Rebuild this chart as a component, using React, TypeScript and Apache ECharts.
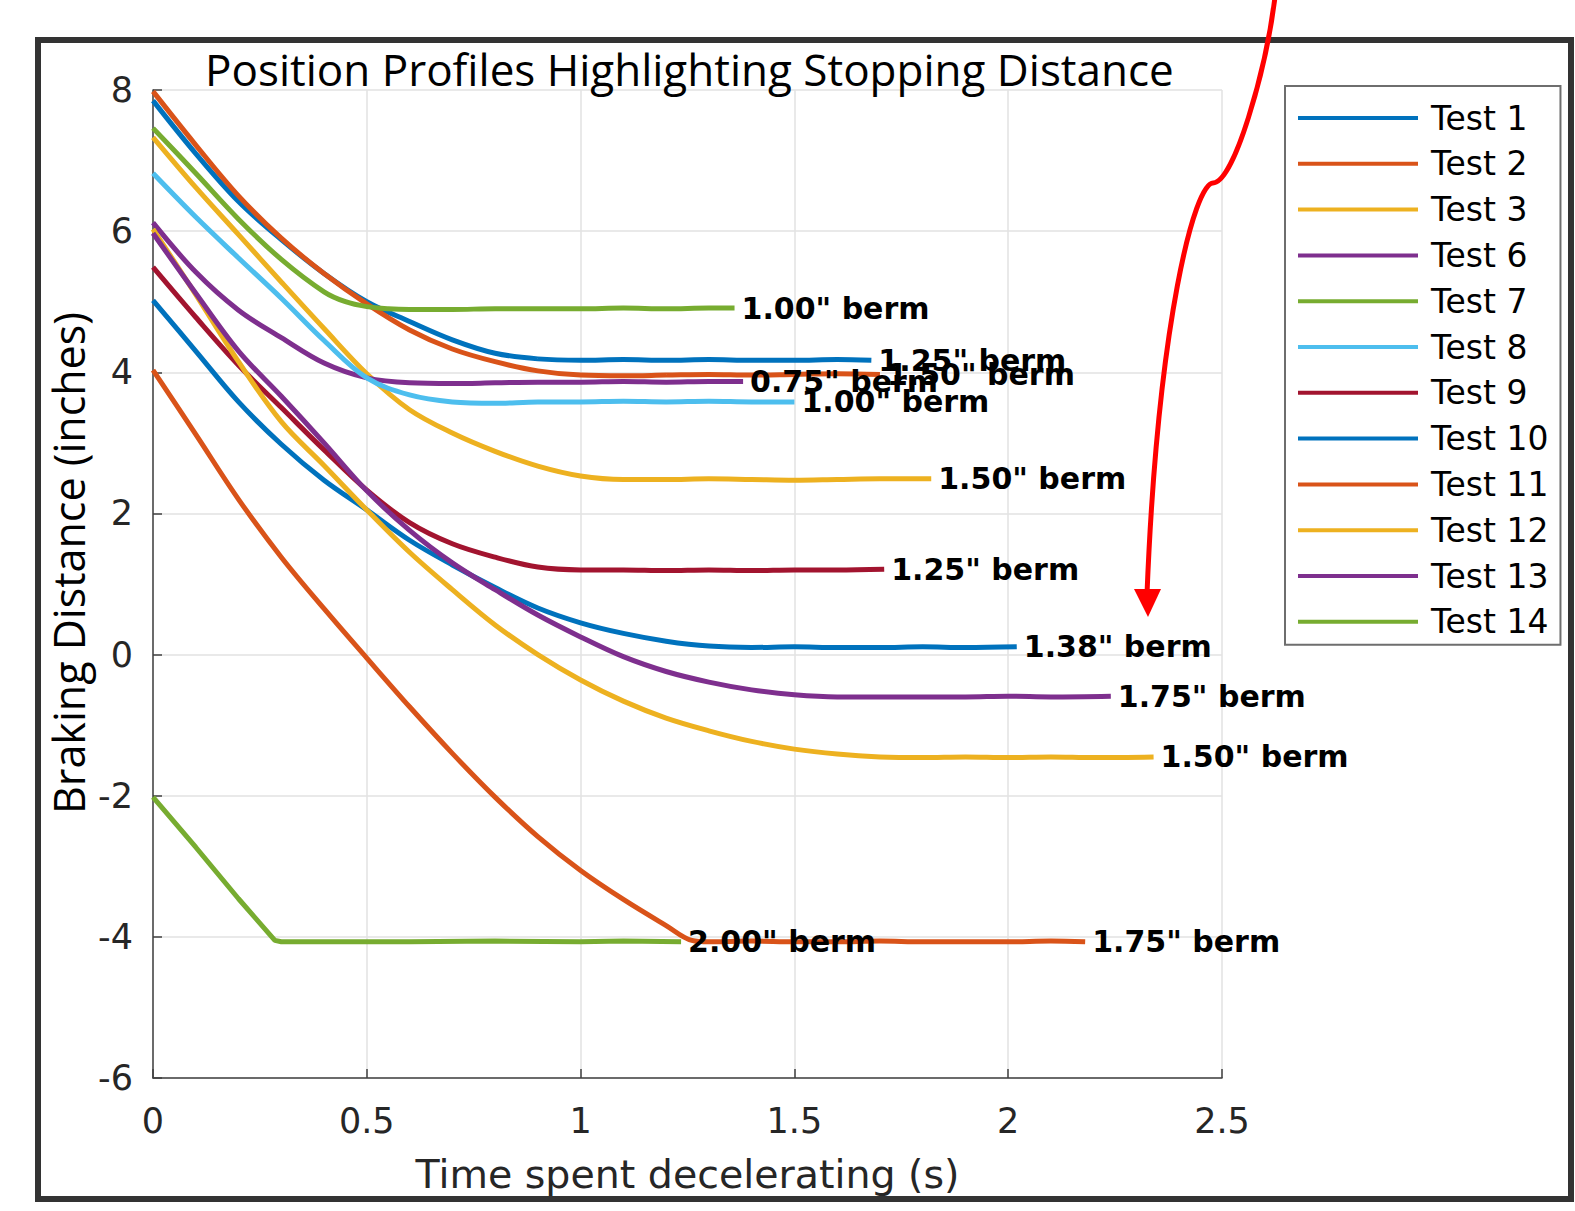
import React, { useEffect, useRef } from 'react';
import * as echarts from 'echarts';

const TITLE = 'Position Profiles Highlighting Stopping Distance';
const X_NAME = 'Time spent decelerating (s)';
const Y_NAME = 'Braking Distance (inches)';

const testNames = ['Test 1', 'Test 2', 'Test 3', 'Test 6', 'Test 7', 'Test 8', 'Test 9', 'Test 10', 'Test 11', 'Test 12', 'Test 13', 'Test 14'];
const bermLabels = ['1.25" berm', '1.50" berm', '1.50" berm', '0.75" berm', '1.00" berm', '1.00" berm', '1.25" berm', '1.38" berm', '1.75" berm', '1.50" berm', '1.75" berm', '2.00" berm'];
const colors = ['#0072BD', '#D95319', '#EDB120', '#7E2F8E', '#77AC30', '#4DBEEE', '#A2142F', '#0072BD', '#D95319', '#EDB120', '#7E2F8E', '#77AC30'];

const xTicks = { min: 0, max: 2.5, step: 0.5 };
const yTicks = { min: -6, max: 8, step: 2 };

const test1Time = [0, 0.1, 0.2, 0.3, 0.4, 0.5, 0.6, 0.7, 0.8, 0.9, 1.0, 1.1, 1.2, 1.3, 1.4, 1.5, 1.6, 1.68];
const test1Dist = [7.85, 7.1, 6.42, 5.88, 5.4, 5.0, 4.72, 4.46, 4.27, 4.19, 4.17, 4.18, 4.17, 4.18, 4.17, 4.17, 4.18, 4.17];

const test2Time = [0, 0.1, 0.2, 0.3, 0.4, 0.5, 0.6, 0.7, 0.8, 0.9, 1.0, 1.1, 1.2, 1.3, 1.4, 1.5, 1.6, 1.7];
const test2Dist = [7.98, 7.22, 6.5, 5.9, 5.4, 4.97, 4.6, 4.33, 4.15, 4.02, 3.96, 3.95, 3.96, 3.97, 3.96, 3.97, 3.98, 3.97];

const test3Time = [0, 0.1, 0.2, 0.3, 0.4, 0.5, 0.6, 0.7, 0.8, 0.9, 1.0, 1.1, 1.2, 1.3, 1.4, 1.5, 1.6, 1.7, 1.82];
const test3Dist = [7.33, 6.62, 5.95, 5.28, 4.62, 3.98, 3.47, 3.14, 2.88, 2.67, 2.53, 2.48, 2.48, 2.49, 2.48, 2.47, 2.48, 2.49, 2.49];

const test6Time = [0, 0.1, 0.2, 0.3, 0.4, 0.5, 0.6, 0.7, 0.8, 0.9, 1.0, 1.1, 1.2, 1.3, 1.38];
const test6Dist = [6.12, 5.42, 4.88, 4.49, 4.13, 3.92, 3.85, 3.84, 3.85, 3.86, 3.86, 3.87, 3.86, 3.87, 3.87];

const test7Time = [0, 0.1, 0.2, 0.3, 0.4, 0.45, 0.5, 0.55, 0.6, 0.7, 0.8, 0.9, 1.0, 1.1, 1.2, 1.3, 1.36];
const test7Dist = [7.46, 6.82, 6.17, 5.6, 5.14, 5.0, 4.93, 4.9, 4.89, 4.89, 4.9, 4.9, 4.9, 4.91, 4.9, 4.91, 4.91];

const test8Time = [0, 0.1, 0.2, 0.3, 0.4, 0.5, 0.6, 0.7, 0.8, 0.9, 1.0, 1.1, 1.2, 1.3, 1.4, 1.5];
const test8Dist = [6.82, 6.2, 5.62, 5.05, 4.45, 3.92, 3.68, 3.58, 3.56, 3.58, 3.58, 3.59, 3.58, 3.59, 3.58, 3.58];

const test9Time = [0, 0.1, 0.2, 0.3, 0.4, 0.5, 0.6, 0.7, 0.8, 0.9, 1.0, 1.1, 1.2, 1.3, 1.4, 1.5, 1.6, 1.71];
const test9Dist = [5.49, 4.78, 4.1, 3.5, 2.9, 2.33, 1.87, 1.57, 1.38, 1.24, 1.2, 1.2, 1.19, 1.2, 1.19, 1.2, 1.2, 1.21];

const test10Time = [0, 0.1, 0.2, 0.3, 0.4, 0.5, 0.6, 0.7, 0.8, 0.9, 1.0, 1.1, 1.2, 1.3, 1.4, 1.5, 1.6, 1.7, 1.8, 1.9, 2.02];
const test10Dist = [5.02, 4.3, 3.58, 2.98, 2.47, 2.05, 1.62, 1.27, 0.95, 0.66, 0.45, 0.3, 0.19, 0.12, 0.1, 0.11, 0.1, 0.1, 0.11, 0.1, 0.11];

const test11Time = [0, 0.1, 0.2, 0.3, 0.4, 0.5, 0.6, 0.7, 0.8, 0.9, 1.0, 1.1, 1.2, 1.26, 1.3, 1.4, 1.5, 1.6, 1.7, 1.8, 1.9, 2.0, 2.1, 2.18];
const test11Dist = [4.03, 3.12, 2.2, 1.38, 0.65, -0.05, -0.74, -1.4, -2.02, -2.58, -3.06, -3.47, -3.84, -4.05, -4.07, -4.06, -4.07, -4.07, -4.06, -4.07, -4.07, -4.07, -4.06, -4.07];

const test12Time = [0, 0.1, 0.2, 0.3, 0.4, 0.5, 0.6, 0.7, 0.8, 0.9, 1.0, 1.1, 1.2, 1.3, 1.4, 1.5, 1.6, 1.7, 1.8, 1.9, 2.0, 2.1, 2.2, 2.34];
const test12Dist = [6.03, 5.1, 4.15, 3.3, 2.68, 2.05, 1.45, 0.92, 0.42, 0.0, -0.36, -0.66, -0.9, -1.08, -1.23, -1.34, -1.41, -1.45, -1.46, -1.45, -1.46, -1.45, -1.46, -1.45];

const test13Time = [0, 0.1, 0.2, 0.3, 0.4, 0.5, 0.6, 0.7, 0.8, 0.9, 1.0, 1.1, 1.2, 1.3, 1.4, 1.5, 1.6, 1.7, 1.8, 1.9, 2.0, 2.1, 2.24];
const test13Dist = [5.97, 5.12, 4.3, 3.66, 3.0, 2.32, 1.76, 1.3, 0.92, 0.56, 0.25, -0.03, -0.24, -0.39, -0.5, -0.57, -0.6, -0.6, -0.6, -0.6, -0.59, -0.6, -0.59];

const test14Time = [0, 0.1, 0.2, 0.285, 0.3, 0.4, 0.6, 0.8, 1.0, 1.1, 1.235];
const test14Dist = [-2.02, -2.73, -3.46, -4.05, -4.07, -4.07, -4.07, -4.06, -4.07, -4.06, -4.07];

const allTimes = [test1Time, test2Time, test3Time, test6Time, test7Time, test8Time, test9Time, test10Time, test11Time, test12Time, test13Time, test14Time];
const allDists = [test1Dist, test2Dist, test3Dist, test6Dist, test7Dist, test8Dist, test9Dist, test10Dist, test11Dist, test12Dist, test13Dist, test14Dist];

const AX = '#404040';
const TXT = '#262626';

export default function App() {
  const ref = useRef<HTMLDivElement>(null);

  useEffect(() => {
    if (!ref.current) return;
    const chart = echarts.init(ref.current, undefined, { renderer: 'svg' });

    const series = testNames.map((name, i) => ({
      name,
      type: 'line',
      data: allTimes[i].map((t, j) => [t, allDists[i][j]]),
      showSymbol: false,
      smooth: i === 11 ? false : 0.35,
      lineStyle: { color: colors[i], width: 5 },
      itemStyle: { color: colors[i] },
      endLabel: {
        show: true,
        formatter: bermLabels[i],
        fontFamily: 'DejaVu Sans',
        fontWeight: 'bold',
        fontSize: 30,
        color: '#000',
        distance: 7,
      },
      emphasis: { disabled: true },
      silent: true,
    }));

    chart.setOption({
      animation: false,
      backgroundColor: '#ffffff',
      title: {
        text: TITLE,
        left: 205,
        top: 47,
        padding: 0,
        textStyle: { fontFamily: 'Open Sans', fontSize: 44, lineHeight: 44, fontWeight: 'normal', color: '#000' },
      },
      grid: { left: 153, top: 90, width: 1069, height: 988, containLabel: false },
      xAxis: {
        type: 'value',
        min: xTicks.min,
        max: xTicks.max,
        interval: xTicks.step,
        axisLine: { show: true, onZero: false, lineStyle: { color: AX, width: 1.5 } },
        axisTick: { show: true, inside: true, length: 9, lineStyle: { color: AX, width: 1.5 } },
        axisLabel: { fontFamily: 'DejaVu Sans', fontSize: 35, color: TXT, margin: 25 },
        splitLine: { show: true, lineStyle: { color: '#e2e2e2', width: 1.5 } },
        name: X_NAME,
        nameLocation: 'middle',
        nameGap: 76,
        nameTextStyle: { fontFamily: 'DejaVu Sans', fontSize: 39.5, color: TXT },
      },
      yAxis: {
        type: 'value',
        min: yTicks.min,
        max: yTicks.max,
        interval: yTicks.step,
        axisLine: { show: true, onZero: false, lineStyle: { color: AX, width: 1.5 } },
        axisTick: { show: true, inside: true, length: 9, lineStyle: { color: AX, width: 1.5 } },
        axisLabel: { fontFamily: 'DejaVu Sans', fontSize: 35, color: TXT, margin: 20 },
        splitLine: { show: true, lineStyle: { color: '#e2e2e2', width: 1.5 } },
      },
      legend: {
        orient: 'vertical',
        left: 1285,
        top: 86,
        data: testNames,
        icon: 'rect',
        itemWidth: 120,
        itemHeight: 4,
        itemGap: 11.8,
        padding: [15, 12, 6, 13],
        borderColor: '#6e6e6e',
        borderWidth: 2,
        backgroundColor: '#fff',
        selectedMode: false,
        textStyle: { fontFamily: 'DejaVu Sans', fontSize: 33, color: '#000', lineHeight: 34, padding: [0, 0, 0, 8] },
      },
      graphic: [
        {
          type: 'rect',
          shape: { x: 38, y: 40, width: 1533, height: 1159 },
          style: { fill: 'none', stroke: '#333333', lineWidth: 6 },
          z: 100,
          silent: true,
        },
        {
          type: 'text',
          x: 68,
          y: 563,
          rotation: Math.PI / 2,
          style: {
            text: Y_NAME,
            fontFamily: 'Open Sans',
            fontSize: 43,
            fill: '#000',
            align: 'center',
            verticalAlign: 'middle',
          },
          z: 100,
        },
        {
          type: 'bezierCurve',
          shape: { x1: 1275, y1: -3, x2: 1213, y2: 183, cpx1: 1266, cpy1: 70, cpx2: 1234, cpy2: 183 },
          style: { stroke: '#ff0000', lineWidth: 5, fill: 'none' },
          z: 101,
          silent: true,
        },
        {
          type: 'bezierCurve',
          shape: { x1: 1213, y1: 183, x2: 1147, y2: 594, cpx1: 1195, cpy1: 183, cpx2: 1158, cpy2: 320 },
          style: { stroke: '#ff0000', lineWidth: 5, fill: 'none' },
          z: 101,
          silent: true,
        },
        {
          type: 'polygon',
          shape: { points: [[1134, 589], [1161, 589], [1148, 617]] },
          style: { fill: '#ff0000' },
          z: 101,
          silent: true,
        },
      ],
      series,
    });

    return () => chart.dispose();
  }, []);

  return (
    <div
      ref={ref}
      style={{ position: 'fixed', left: 0, top: 0, width: '1575px', height: '1211px', background: '#fff' }}
    />
  );
}
